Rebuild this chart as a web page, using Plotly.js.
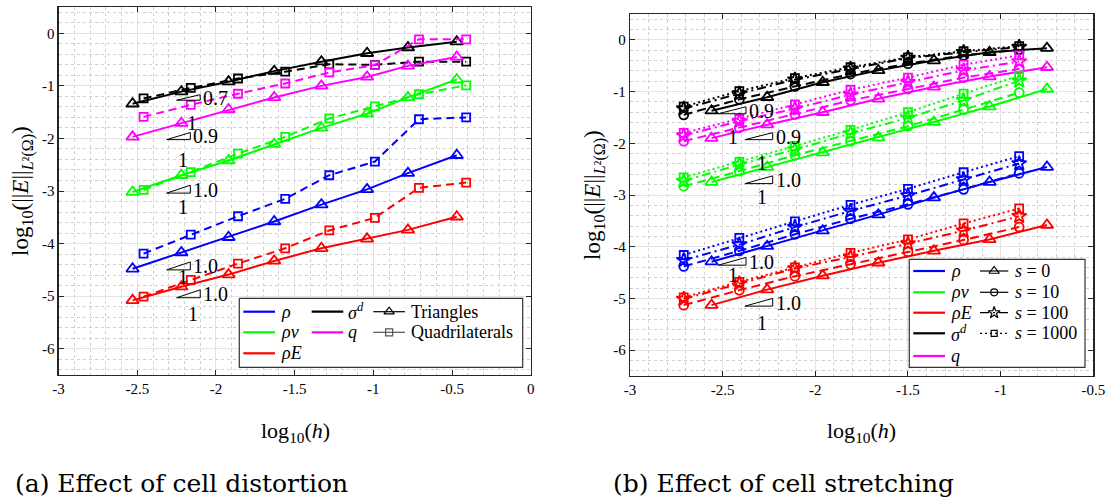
<!DOCTYPE html>
<html>
<head>
<meta charset="utf-8">
<script src="https://cdn.plot.ly/plotly-3.0.1.min.js"></script>
<style>html,body{margin:0;padding:0;background:#fff;}#plot{width:1109px;height:498px;}</style>
</head>
<body>
<div id="plot"></div>
<script>
// ---------------- DATA ----------------
// (a) Effect of cell distortion
const xTriA  = [-2.53, -2.22, -1.92, -1.63, -1.33, -1.04, -0.78, -0.47];
const xQuadA = [-2.46, -2.16, -1.86, -1.56, -1.28, -0.99, -0.71, -0.41];
const rhoTriA    = [-4.48, -4.17, -3.88, -3.58, -3.26, -2.97, -2.66, -2.32];
const rhoQuadA   = [-4.19, -3.83, -3.48, -3.15, -2.70, -2.44, -1.635, -1.60];
const rhovTriA   = [-3.02, -2.70, -2.42, -2.11, -1.80, -1.53, -1.22, -0.88];
const rhovQuadA  = [-2.98, -2.64, -2.29, -1.97, -1.62, -1.39, -1.16, -0.99];
const rhoETriA   = [-5.08, -4.82, -4.59, -4.33, -4.09, -3.91, -3.74, -3.49];
const rhoEQuadA  = [-5.01, -4.69, -4.38, -4.09, -3.75, -3.51, -2.94, -2.84];
const sigTriA    = [-1.34, -1.11, -0.92, -0.72, -0.54, -0.38, -0.27, -0.16];
const sigQuadA   = [-1.24, -1.04, -0.86, -0.73, -0.59, -0.60, -0.54, -0.54];
const qTriA      = [-1.97, -1.71, -1.45, -1.22, -1.00, -0.83, -0.62, -0.45];
const qQuadA     = [-1.59, -1.36, -1.15, -0.955, -0.745, -0.605, -0.115, -0.115];

// (b) Effect of cell stretching
const xS0 = [-2.56, -2.26, -1.96, -1.66, -1.36, -1.06, -0.75];
const xS  = [-2.71, -2.41, -2.11, -1.81, -1.50, -1.20, -0.90];
const rhoB  = { s0: [-4.29,-3.99,-3.69,-3.38,-3.05,-2.75,-2.46],
                s10:[-4.38,-4.08,-3.76,-3.46,-3.18,-2.89,-2.58],
                s100:[-4.26,-3.96,-3.62,-3.31,-3.01,-2.70,-2.39],
                s1000:[-4.16,-3.83,-3.51,-3.19,-2.88,-2.56,-2.25] };
const rhovB = { s0: [-2.75,-2.46,-2.18,-1.89,-1.59,-1.29,-0.95],
                s10:[-2.83,-2.54,-2.23,-1.96,-1.67,-1.35,-1.02],
                s100:[-2.73,-2.41,-2.12,-1.81,-1.51,-1.17,-0.79],
                s1000:[-2.66,-2.36,-2.05,-1.74,-1.40,-1.04,-0.69] };
const rhoEB = { s0: [-5.13,-4.83,-4.56,-4.31,-4.08,-3.86,-3.58],
                s10:[-5.13,-4.84,-4.57,-4.34,-4.10,-3.87,-3.62],
                s100:[-5.01,-4.71,-4.42,-4.20,-3.94,-3.69,-3.41],
                s1000:[-4.98,-4.68,-4.40,-4.12,-3.86,-3.55,-3.26] };
const sigB  = { s0: [-1.37,-1.11,-0.82,-0.59,-0.40,-0.24,-0.16],
                s10:[-1.45,-1.15,-0.90,-0.66,-0.46,-0.30,-0.19],
                s100:[-1.33,-1.04,-0.77,-0.56,-0.35,-0.24,-0.14],
                s1000:[-1.29,-0.99,-0.74,-0.53,-0.34,-0.22,-0.12] };
const qB    = { s0: [-1.90,-1.64,-1.40,-1.14,-0.91,-0.71,-0.53],
                s10:[-1.96,-1.70,-1.44,-1.17,-0.95,-0.73,-0.56],
                s100:[-1.85,-1.57,-1.33,-1.06,-0.82,-0.59,-0.42],
                s1000:[-1.80,-1.53,-1.25,-0.965,-0.73,-0.48,-0.30] };

// slope triangles: [x0, y0, slope]
const slopesA = [[-2.25,-1.273,0.7],[-2.313,-2.023,0.9],[-2.313,-3.04,1.0],[-2.313,-4.50,1.0],[-2.25,-5.03,1.0]];
const onesA   = [[-2.154,-1.712],[-2.208,-2.418],[-2.208,-3.309],[-2.208,-4.645],[-2.144,-5.344]];
const slopesB = [[-2.524,-1.429,0.9],[-2.38,-1.93,0.9],[-2.38,-2.78,1.0],[-2.524,-4.357,1.0],[-2.38,-5.149,1.0]];
const onesB   = [[-2.443,-1.88],[-2.29,-2.39],[-2.29,-3.04],[-2.443,-4.55],[-2.29,-5.48]];

const xTicksA = [-3,-2.5,-2,-1.5,-1,-0.5,0];
const xTickTextA = ['-3','-2.5','-2','-1.5','-1','-0.5','0'];
const xTicksB = [-3,-2.5,-2,-1.5,-1,-0.5];
const xTickTextB = ['-3','-2.5','-2','-1.5','-1','-0.5'];
const yTicks = [-6,-5,-4,-3,-2,-1,0];
const yTickText = ['-6','-5','-4','-3','-2','-1','0'];

// ---------------- STYLE ----------------
const W = 1109, H = 498;
const BLUE='#0000ff', GREEN='#00ff00', RED='#ff0000', BLACK='#000000', MAG='#ff00ff';
const FONT = 'Liberation Serif, DejaVu Serif, serif';
const CAPFONT = 'DejaVu Serif, Liberation Serif, serif';
const LW = 2;
const DASH_Q = '8px,5px';
const dashS = {s0:'solid', s10:'9px,5px', s100:'9px,4px,2px,4px', s1000:'2px,3px'};
const symS = {s0:'triangle-up-open', s10:'circle-open', s100:'star-open', s1000:'square-open'};
const sizeS = {s0:11, s10:9, s100:11, s1000:8};

const traces = [];
function addA(x, y, color, tri){
  traces.push({x:x, y:y, xaxis:'x', yaxis:'y', type:'scatter', mode:'lines+markers', showlegend:false,
    line:{color:color, width:LW, dash: tri?'solid':DASH_Q},
    marker:{symbol: tri?'triangle-up-open':'square-open', size: tri?11:8, color:color, line:{color:color, width:1.8}}});
}
[[sigTriA,sigQuadA,BLACK],[qTriA,qQuadA,MAG],[rhovTriA,rhovQuadA,GREEN],[rhoTriA,rhoQuadA,BLUE],[rhoETriA,rhoEQuadA,RED]]
.forEach(([t,q,c])=>{ addA(xQuadA,q,c,false); addA(xTriA,t,c,true); });

[[sigB,BLACK],[qB,MAG],[rhovB,GREEN],[rhoB,BLUE],[rhoEB,RED]].forEach(([d,c])=>{
  ['s1000','s100','s10','s0'].forEach(k=>{
    traces.push({x: k==='s0'?xS0:xS, y:d[k], xaxis:'x2', yaxis:'y2', type:'scatter', mode:'lines+markers', showlegend:false,
      line:{color:c, width:LW, dash:dashS[k]},
      marker:{symbol:symS[k], size:sizeS[k], color:c, line:{color:c, width:1.8}}});
  });
});

// slope triangles
const shapes = [];
const annotations = [];
function slopeTri(list, ones, xr, yr){
  const b = 0.15;
  list.forEach((s,i)=>{
    const [x0,y0,m] = s;
    shapes.push({type:'path', xref:xr, yref:yr, layer:'above',
      path:`M ${x0} ${y0} L ${x0+b} ${y0} L ${x0+b} ${y0+b*m} Z`, line:{color:'#000', width:1}});
    annotations.push({xref:xr, yref:yr, x:x0+b+0.005, y:y0+b*m*0.45, text:m.toFixed(1), showarrow:false,
      xanchor:'left', yanchor:'middle', font:{family:FONT, size:20, color:'#000'}});
    annotations.push({xref:xr, yref:yr, x:ones[i][0], y:ones[i][1], text:'1', showarrow:false,
      xanchor:'center', yanchor:'middle', font:{family:FONT, size:20, color:'#000'}});
  });
}
slopeTri(slopesA, onesA, 'x', 'y');
slopeTri(slopesB, onesB, 'x2', 'y2');

// ---------------- LEGENDS (pixel overlay axes x3/y3) ----------------
function addBox(x0,x1,y0,y1){
  traces.push({x:[x0,x1,x1,x0,x0], y:[y0,y0,y1,y1,y0], xaxis:'x3', yaxis:'y3', mode:'lines', fill:'toself',
    fillcolor:'#ffffff', line:{color:'#333', width:1.2}, showlegend:false, hoverinfo:'skip'});
}
function addLegLine(x0,x1,y,color,dash,sym,size){
  traces.push({x:[x0,x1], y:[y,y], xaxis:'x3', yaxis:'y3', mode:'lines', line:{color:color,width: sym?1.2:2.2, dash:dash||'solid'},
    showlegend:false, hoverinfo:'skip'});
  if(sym){
    traces.push({x:[(x0+x1)/2], y:[y], xaxis:'x3', yaxis:'y3', mode:'markers',
      marker:{symbol:sym, size:size, color:color, line:{color:color,width:1.2}}, showlegend:false, hoverinfo:'skip'});
  }
}
function legText(x,y,t){
  annotations.push({xref:'x3', yref:'y3', x:x, y:y, text:t, showarrow:false, xanchor:'left', yanchor:'middle',
    font:{family:FONT, size:18, color:'#000'}});
}
// left legend
addBox(239.3,522.7,298.3,367.3);
const rowA=[311.7,332.3,353.3];
addLegLine(243.3,275,rowA[0],BLUE); legText(279,rowA[0],'<i>ρ</i>');
addLegLine(243.3,275,rowA[1],GREEN); legText(279,rowA[1],'<i>ρv</i>');
addLegLine(243.3,275,rowA[2],RED); legText(279,rowA[2],'<i>ρE</i>');
addLegLine(311.7,343.3,rowA[0],BLACK); legText(346,rowA[0],'<i>σ</i><sup><i>d</i></sup>');
addLegLine(311.7,343.3,rowA[1],MAG); legText(346,rowA[1],'<i>q</i>');
addLegLine(373.3,405,rowA[0],BLACK,'solid','triangle-up-open',9); legText(409,rowA[0],'Triangles');
addLegLine(373.3,405,rowA[1],'#555','solid','square-open',7); legText(409,rowA[1],'Quadrilaterals');
// right legend
addBox(909.3,1085,259.3,367.3);
const rowB=[271,292.3,312.7,333.3,356];
[[BLUE,'<i>ρ</i>'],[GREEN,'<i>ρv</i>'],[RED,'<i>ρE</i>'],[BLACK,'<i>σ</i><sup><i>d</i></sup>'],[MAG,'<i>q</i>']].forEach((e,i)=>{
  addLegLine(913.3,945,rowB[i],e[0]); legText(949,rowB[i],e[1]);
});
[['s0','0'],['s10','10'],['s100','100'],['s1000','1000']].forEach((e,i)=>{
  addLegLine(980,1008.3,rowB[i],BLACK,(e[0]==='s0'||e[0]==='s10')?'solid':dashS[e[0]],symS[e[0]],sizeS[e[0]]-2);
  legText(1013,rowB[i],'<i>s</i> = '+e[1]);
});

// ---------------- TITLES ----------------
const ytitle = 'log<sub>10</sub>(||<i>E</i>||<sub><i>L</i>²(Ω)</sub>)';
annotations.push({xref:'x3',yref:'y3',x:22,y:191,text:ytitle,textangle:-90,showarrow:false,xanchor:'center',yanchor:'middle',font:{family:FONT,size:23,color:'#000'}});
annotations.push({xref:'x3',yref:'y3',x:594,y:195,text:ytitle,textangle:-90,showarrow:false,xanchor:'center',yanchor:'middle',font:{family:FONT,size:23,color:'#000'}});
annotations.push({xref:'x3',yref:'y3',x:295,y:432,text:'log<sub>10</sub>(<i>h</i>)',showarrow:false,xanchor:'center',yanchor:'middle',font:{family:FONT,size:22,color:'#000'}});
annotations.push({xref:'x3',yref:'y3',x:861,y:432,text:'log<sub>10</sub>(<i>h</i>)',showarrow:false,xanchor:'center',yanchor:'middle',font:{family:FONT,size:22,color:'#000'}});
annotations.push({xref:'x3',yref:'y3',x:13,y:483,text:'(a) Effect of cell distortion',showarrow:false,xanchor:'left',yanchor:'middle',font:{family:CAPFONT,size:25,color:'#000'}});
annotations.push({xref:'x3',yref:'y3',x:611,y:483,text:'(b) Effect of cell stretching',showarrow:false,xanchor:'left',yanchor:'middle',font:{family:CAPFONT,size:25,color:'#000'}});

// ---------------- AXES ----------------
function px2dx(a,b){return [a/W, b/W];}
function py2dy(top,bot){return [1-bot/H, 1-top/H];}
function xax(dom, range, tv, tt){
  return {domain:dom, range:range, tickvals:tv, ticktext:tt, ticks:'inside', ticklen:5, tickwidth:1, tickcolor:'#262626',
    showline:true, linecolor:'#262626', linewidth:1.2, mirror:'ticks', zeroline:false,
    showgrid:true, gridcolor:'#e3e3e3', gridwidth:1,
    minor:{dtick:0.1, showgrid:true, gridcolor:'#d0d0d0', griddash:'dot', gridwidth:1, ticks:''},
    tickfont:{family:FONT, size:15, color:'#000'}, fixedrange:true, automargin:false};
}
function yax(dom, anchor){
  return {domain:dom, range:[-6.5,0.5], tickvals:yTicks, ticktext:yTickText, ticks:'inside', ticklen:5, tickwidth:1, tickcolor:'#262626',
    showline:true, linecolor:'#262626', linewidth:1.2, mirror:'ticks', zeroline:false, anchor:anchor,
    showgrid:true, gridcolor:'#e3e3e3', gridwidth:1,
    minor:{dtick:0.2, tick0:0, showgrid:true, gridcolor:'#d0d0d0', griddash:'dot', gridwidth:1, ticks:''},
    tickfont:{family:FONT, size:15, color:'#000'}, fixedrange:true, automargin:false};
}
const layout = {
  width:W, height:H, margin:{l:0,r:0,t:0,b:0},
  paper_bgcolor:'#ffffff', plot_bgcolor:'rgba(0,0,0,0)', showlegend:false,
  xaxis: Object.assign(xax(px2dx(58.6,530.7), [-3,0], xTicksA, xTickTextA), {anchor:'y'}),
  yaxis: yax(py2dy(7,375), 'x'),
  xaxis2: Object.assign(xax(px2dx(630,1093.3), [-3,-0.5], xTicksB, xTickTextB), {anchor:'y2'}),
  yaxis2: yax(py2dy(14,376), 'x2'),
  xaxis3: {domain:[0,1], range:[0,W], visible:false, fixedrange:true, anchor:'y3'},
  yaxis3: {domain:[0,1], range:[H,0], visible:false, fixedrange:true, anchor:'x3'},
  shapes: shapes, annotations: annotations
};
Plotly.newPlot('plot', traces, layout, {staticPlot:true});
</script>
</body>
</html>
